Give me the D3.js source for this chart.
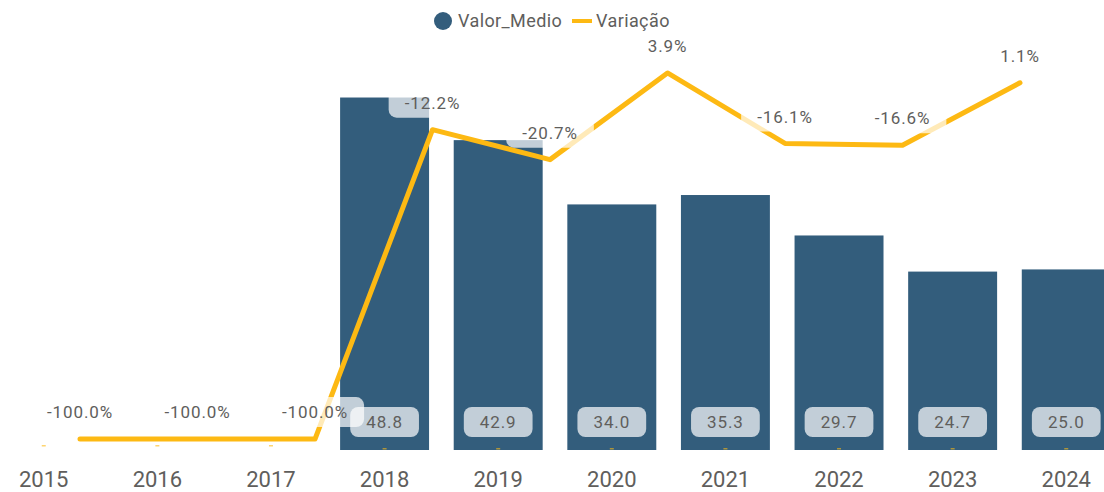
<!DOCTYPE html>
<html>
<head>
<meta charset="utf-8">
<script src="https://cdn.jsdelivr.net/npm/d3@7"></script>
<style>
  body { margin:0; background:#fff; }
  svg text { font-family: Roboto, "DejaVu Sans", sans-serif; fill:#605E5C; }
</style>
</head>
<body>
<svg id="chart" width="1104" height="492"></svg>
<script>
// data
var years = ["2015","2016","2017","2018","2019","2020","2021","2022","2023","2024"];
var valorMedio = [null,null,null,48.8,42.9,34.0,35.3,29.7,24.7,25.0];
var lineYears = ["2016","2017","2018","2019","2020","2021","2022","2023","2024"];
var variacao = [-100.0,-100.0,-100.0,-12.2,-20.7,3.9,-16.1,-16.6,1.1];

var barColor = "#335D7C";
var lineColor = "#FDB913";

var svg = d3.select("#chart");
svg.selectAll("*").remove();

var x = d3.scaleBand().domain(years).range([-13, 1123]).paddingInner(0.217).paddingOuter(0.108);
var xLine = d3.scalePoint().domain(lineYears).range([80, 1020]);
var yBar = d3.scaleLinear().domain([0, 62.3]).range([450, 0]);
var yLine = d3.scaleLinear().domain([-103.1, 24.6]).range([450, 0]);

var bars = years.map(function(y,i){ return {year:y, v:valorMedio[i]}; });
var pts = lineYears.map(function(y,i){ return {year:y, v:variacao[i]}; });

main = svg.append("g").attr("class","main");

// bars
main.selectAll("rect.bar")
    .data(bars.filter(function(d){ return d.v != null; }))
    .enter().append("rect")
    .attr("class","bar")
    .attr("x", function(d){ return x(d.year); })
    .attr("width", x.bandwidth())
    .attr("y", function(d){ return yBar(d.v); })
    .attr("height", function(d){ return yBar(0) - yBar(d.v); })
    .attr("fill", barColor);

// tiny marks at category centres
main.selectAll("rect.tick")
    .data(bars)
    .enter().append("rect")
    .attr("x", function(d){ return x(d.year) + x.bandwidth()/2 - 2; })
    .attr("y", function(d){ return d.v == null ? 445 : 448; })
    .attr("width", 4).attr("height", 1.5)
    .attr("fill", lineColor).attr("opacity", 0.6);

// line
var line = d3.line()
    .x(function(d){ return xLine(d.year); })
    .y(function(d){ return yLine(d.v); });

main.append("path")
    .datum(pts)
    .attr("d", line)
    .attr("fill","none")
    .attr("stroke", lineColor)
    .attr("stroke-width", 5)
    .attr("stroke-linejoin","round")
    .attr("stroke-linecap","round");

function addLabel(g, cx, cy, txt, size) {
    var lab = g.append("g");
    var r = lab.append("rect");
    var t = lab.append("text")
        .attr("x", cx).attr("y", cy)
        .attr("dy", "0.36em")
        .attr("text-anchor","middle")
        .style("font-size", size + "px")
        .style("letter-spacing", "0.9px")
        .text(txt);
    var w = t.node().getComputedTextLength();
    r.attr("x", cx - w/2 - 16).attr("y", cy - 15)
     .attr("width", w + 32).attr("height", 30)
     .attr("rx", 8)
     .attr("fill", "#fff").attr("fill-opacity", 0.7);
}

// line labels
var lineLabels = main.append("g");
pts.forEach(function(d){
    addLabel(lineLabels, xLine(d.year), yLine(d.v) - 27, d3.format(".1f")(d.v).replace("−","-") + "%", 17);
});

// bar labels
var barLabels = main.append("g");
bars.forEach(function(d){
    if (d.v == null) return;
    addLabel(barLabels, x(d.year) + x.bandwidth()/2, yBar(0) - 28, d3.format(".1f")(d.v), 17);
});

// x axis labels
main.selectAll("text.xlab")
    .data(years)
    .enter().append("text")
    .attr("class","xlab")
    .attr("x", function(d){ return x(d) + x.bandwidth()/2; })
    .attr("y", 487)
    .attr("text-anchor","middle")
    .style("font-size","22px")
    .text(function(d){ return d; });

// legend
var leg = svg.append("g").attr("class","legend");
leg.append("circle").attr("cx",443).attr("cy",21).attr("r",9).attr("fill",barColor);
leg.append("text").attr("x",458).attr("y",21).attr("dy","0.36em").style("font-size","18px").style("letter-spacing","0.4px").text("Valor_Medio");
leg.append("line").attr("x1",572).attr("x2",592).attr("y1",21).attr("y2",21)
    .attr("stroke",lineColor).attr("stroke-width",4);
leg.append("text").attr("x",596).attr("y",21).attr("dy","0.36em").style("font-size","18px").style("letter-spacing","0.4px").text("Variação");
</script>
</body>
</html>
